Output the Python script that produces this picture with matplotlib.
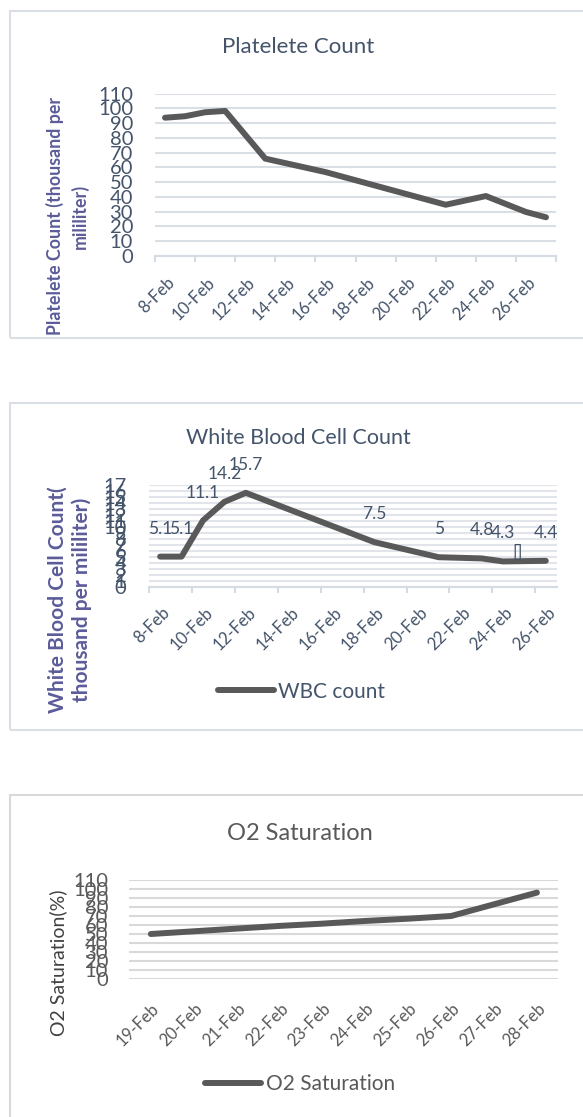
import matplotlib
matplotlib.use('Agg')
import numpy as np
import matplotlib.pyplot as plt
from matplotlib.patches import Rectangle

plt.rcParams['font.family'] = ['Lato', 'DejaVu Sans']

# platelet count (day of February -> thousand per ml)
plt_days = [8, 9, 10, 11, 13, 16, 22, 24, 26, 27]
plt_vals = [93.7, 94.7, 97.4, 98.3, 65.9, 56.8, 34.6, 40.5, 29.7, 26.1]
plt_label_days = [8, 10, 12, 14, 16, 18, 20, 22, 24, 26]

# white blood cell count
wbc_days = [8, 9, 10, 11, 12, 18, 21, 23, 24, 26]
wbc_vals = [5.1, 5.1, 11.1, 14.2, 15.7, 7.5, 5, 4.8, 4.3, 4.4]
wbc_labels = ['5.1', '5.1', '11.1', '14.2', '15.7', '7.5', '5', '4.8', '4.3', '4.4']
wbc_label_days = [8, 10, 12, 14, 16, 18, 20, 22, 24, 26]

# O2 saturation
o2_dates = ['19-Feb', '20-Feb', '21-Feb', '22-Feb', '23-Feb',
            '24-Feb', '25-Feb', '26-Feb', '27-Feb', '28-Feb']
o2_vals = [50, 53, 56, 59, 61.5, 64.5, 67, 70, 83, 96]

W, H = 583, 1117
fig = plt.figure(figsize=(W / 100, H / 100), dpi=100)

BLUE_TXT = '#44546A'
GRAY_TXT = '#595959'
PURPLE = '#5B5C99'
LINE = '#595959'


def px_axes(l, t, r, b):
    return fig.add_axes([l / W, 1 - b / H, (r - l) / W, (b - t) / H])


def box(top, bottom, color):
    fig.add_artist(Rectangle((9.5 / W, 1 - bottom / H), (700 - 9.5) / W, (bottom - top) / H,
                             transform=fig.transFigure, fill=False, ec=color, lw=1.5))


def ftext(x, y, s, **kw):
    fig.text(x / W, 1 - y / H, s, ha='center', va='center', **kw)


def date_labels(ax, xs, texts, color, dx, dy):
    for x, t in zip(xs, texts):
        ax.annotate(t, xy=(x, 0), xycoords=('data', 'axes fraction'),
                    xytext=(dx, dy), textcoords='offset pixels',
                    rotation=45, rotation_mode='anchor', ha='right', va='center',
                    fontsize=12, color=color, annotation_clip=False)


def style(ax, grid_color, tick_color, pad):
    for s in ax.spines.values():
        s.set_visible(False)
    ax.set_axisbelow(True)
    ax.yaxis.grid(True, color=grid_color, lw=1.5)
    ax.tick_params(axis='y', length=0, pad=pad, labelsize=14.5, labelcolor=tick_color)


# ---------- Platelet ----------
box(10.5, 338, '#DADFE6')
ax1 = px_axes(155, 93.7, 556, 255.7)
ax1.plot(plt_days, plt_vals, color=LINE, lw=4.3, solid_capstyle='round', solid_joinstyle='round')
ax1.set_xlim(7.5, 27.5)
ax1.set_ylim(0, 110)
ax1.set_yticks(range(0, 111, 10))
style(ax1, '#DADFE6', BLUE_TXT, 15.8)
ax1.spines['bottom'].set_visible(True)
ax1.spines['bottom'].set_color('#D5DBE3')
ax1.spines['bottom'].set_linewidth(1.5)
ax1.set_xticks(np.arange(7.5, 27.6, 2))
ax1.set_xticklabels([])
ax1.tick_params(axis='x', length=4.3, width=1.5, color='#D5DBE3')
date_labels(ax1, plt_label_days, [f'{d}-Feb' for d in plt_label_days], BLUE_TXT, 7, -24)
ftext(298.5, 47, 'Platelete Count', fontsize=16, color=BLUE_TXT)
ftext(67.5, 216, 'Platelete Count (thousand per\nmililiter)', rotation=90, fontsize=12.8,
      fontweight='bold', color=PURPLE, linespacing=1.42, multialignment='center')

# ---------- WBC ----------
box(403.3, 730, '#DADFE6')
ax2 = px_axes(149.4, 485, 556.5, 587.3)
ax2.plot(wbc_days, wbc_vals, color=LINE, lw=4.3, solid_capstyle='round',
         solid_joinstyle='round', label='WBC count')
ax2.set_xlim(7.5, 26.5)
ax2.set_ylim(0, 17)
ax2.set_yticks(range(0, 18))
style(ax2, '#E1E5EB', BLUE_TXT, 16.6)
ax2.spines['bottom'].set_visible(True)
ax2.spines['bottom'].set_color('#D5DBE3')
ax2.spines['bottom'].set_linewidth(1.5)
ax2.set_xticks(np.arange(7.5, 26, 2))
ax2.set_xticklabels([])
ax2.tick_params(axis='x', length=4.3, width=1.5, color='#D5DBE3')
date_labels(ax2, wbc_label_days, [f'{d}-Feb' for d in wbc_label_days], BLUE_TXT, 7.5, -23)
for d, v, s in zip(wbc_days, wbc_vals, wbc_labels):
    ax2.annotate(s, (d, v), xytext=(0, 28), textcoords='offset pixels', ha='center',
                 va='center', fontsize=12.5, color=BLUE_TXT, annotation_clip=False)
ax2.text(24.7, 5.8, '[]', ha='center', va='center', fontsize=12.5, color=BLUE_TXT)
ax2.legend(loc='center left', bbox_to_anchor=(218 / W, 1 - 691.7 / H),
           bbox_transform=fig.transFigure, frameon=False, fontsize=15,
           handlelength=2.7, handletextpad=0.2, borderpad=0, borderaxespad=0,
           labelcolor=BLUE_TXT)
ftext(298.5, 438, 'White Blood Cell Count', fontsize=15.5, color=BLUE_TXT)
ftext(69.5, 600, 'White Blood Cell Count(\nthousand per mililiter)', rotation=90, fontsize=15,
      fontweight='bold', color=PURPLE, linespacing=1.22, multialignment='center')

# ---------- O2 ----------
box(795, 1200, '#D9D9D9')
ax3 = px_axes(129.4, 880, 558.4, 979)
x3 = np.arange(len(o2_dates))
ax3.plot(x3, o2_vals, color=LINE, lw=4.3, solid_capstyle='round',
         solid_joinstyle='round', label='O2 Saturation')
ax3.set_xlim(-0.5, len(o2_dates) - 0.5)
ax3.set_ylim(0, 110)
ax3.set_yticks(range(0, 111, 10))
style(ax3, '#D9D9D9', GRAY_TXT, 15.4)
ax3.set_xticks([])
date_labels(ax3, x3, o2_dates, GRAY_TXT, 6, -27)
ax3.legend(loc='center left', bbox_to_anchor=(205 / W, 1 - 1084 / H),
           bbox_transform=fig.transFigure, frameon=False, fontsize=15,
           handlelength=2.7, handletextpad=0.25, borderpad=0, borderaxespad=0,
           labelcolor=GRAY_TXT)
ftext(299.5, 833, 'O2 Saturation', fontsize=17, color=GRAY_TXT)
ftext(58, 963, 'O2 Saturation(%)', rotation=90, fontsize=14, color='#404040')

fig.savefig('out.png', dpi=100)
